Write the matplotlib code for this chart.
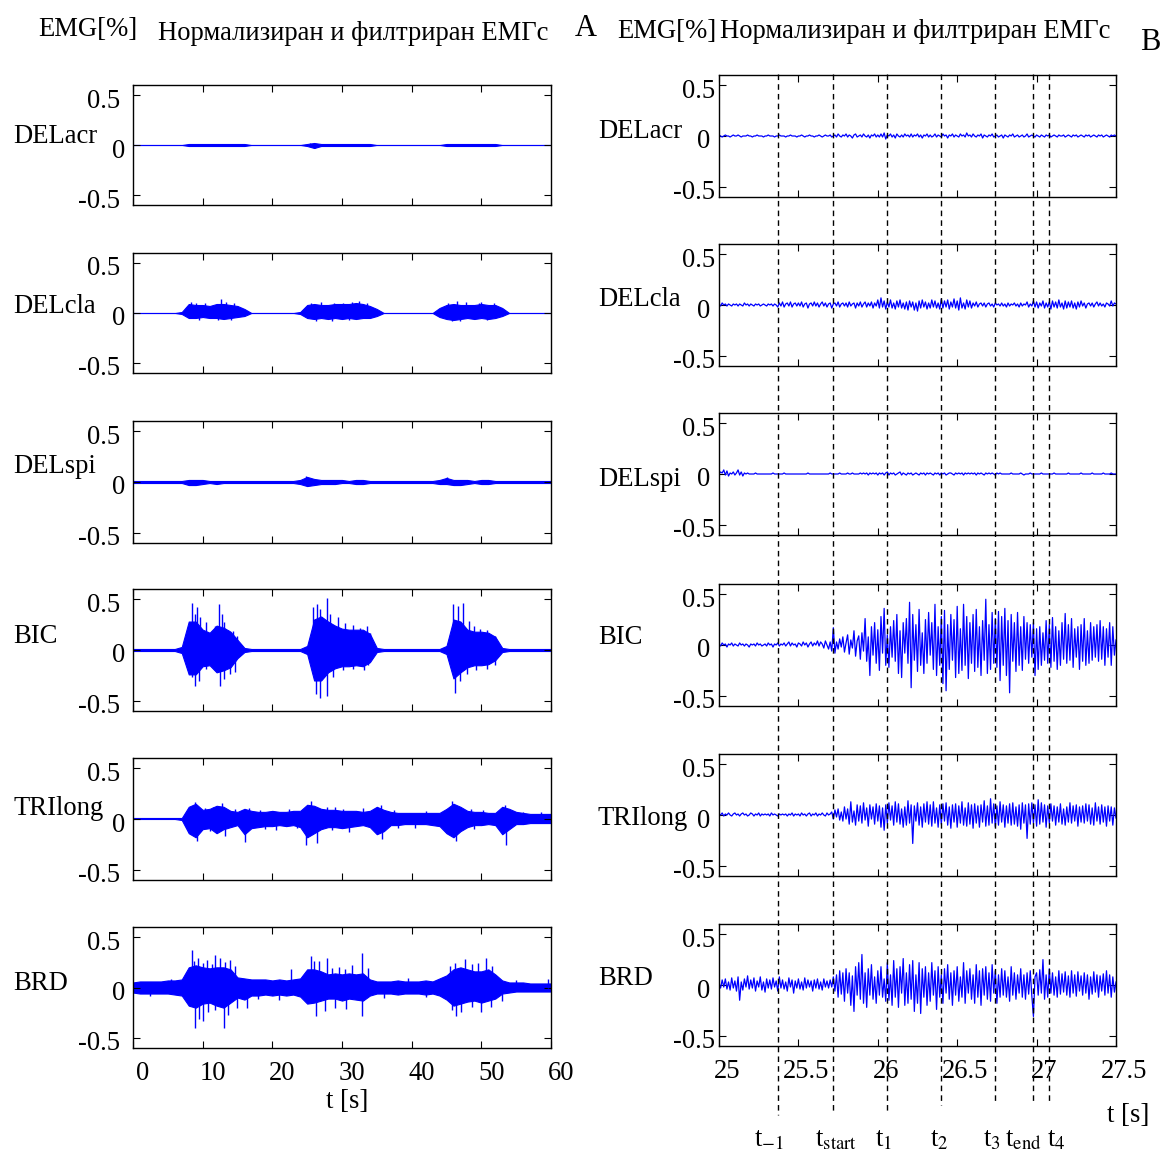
import matplotlib
matplotlib.use("Agg")
import matplotlib.pyplot as plt
import matplotlib.transforms as mtransforms
from matplotlib.lines import Line2D
import numpy as np

W, H = 1163, 1154
BLUE = "#0000ff"

plt.rcParams["font.family"] = ["Liberation Serif", "DejaVu Serif"]
plt.rcParams["mathtext.fontset"] = "stix"
plt.rcParams["font.size"] = 19.2

muscles = ["DELacr", "DELcla", "DELspi", "BIC", "TRIlong", "BRD"]

# ---- panel A: whole record 0..60 s, band envelope per second (units of 0.01) ----
t_full = np.arange(0, 61)

acr_hi = [0, 0, 0, 0, 0, 0, 0, 0, 1, 1, 1, 1, 1, 1, 1, 1, 1, 0, 0, 0, 0, 0, 0, 0,
          0, 1, 2, 1, 1, 1, 1, 1, 1, 1, 1, 0, 0, 0, 0, 0, 0, 0, 0, 0, 0, 1, 1, 1,
          1, 1, 1, 1, 1, 0, 0, 0, 0, 0, 0, 0, 0]
acr_lo = [0, 0, 0, 0, 0, 0, 0, 0, -1, -1, -1, -1, -1, -1, -1, -1, -1, 0, 0, 0, 0, 0, 0, 0,
          0, -1, -3, -1, -1, -1, -1, -1, -1, -1, -1, 0, 0, 0, 0, 0, 0, 0, 0, 0, 0, -1, -1, -1,
          -1, -1, -1, -1, -1, 0, 0, 0, 0, 0, 0, 0, 0]
acr_spk_t = [25.4, 26.1]
acr_spk_v = [2, -3]

cla_hi = [0, 0, 0, 0, 0, 0, 0, 1, 9, 8, 8, 7, 9, 9, 8, 7, 4, 0, 0, 0, 0, 0, 0, 0,
          1, 8, 9, 8, 8, 9, 9, 9, 10, 9, 7, 4, 0, 0, 0, 0, 0, 0, 0, 0, 5, 8, 9, 8,
          8, 8, 9, 8, 8, 5, 0, 0, 0, 0, 0, 0, 0]
cla_lo = [0, 0, 0, 0, 0, 0, 0, -1, -5, -5, -4, -5, -5, -6, -5, -4, -3, 0, 0, 0, 0, 0, 0, 0,
          -1, -5, -6, -5, -6, -5, -6, -5, -6, -5, -5, -3, 0, 0, 0, 0, 0, 0, 0, 0, -4, -6, -7, -6,
          -5, -6, -5, -6, -5, -3, 0, 0, 0, 0, 0, 0, 0]
cla_spk_t = [8.3, 9.1, 10.4, 12.6, 13.4, 14.5, 25.6, 27.0, 28.8, 30.2, 31.5, 32.4, 33.6,
             45.2, 46.5, 47.8, 49.6, 50.0, 51.8, 9.5, 12.2, 14.0, 26.3, 28.5, 31.0, 45.8, 47.0, 50.8]
cla_spk_v = [11, 10, 10, 14, 11, 10, 10, 11, 10, 10, 11, 12, 10,
             10, 12, 11, 10, 11, 10, -7, -7, -7, -8, -8, -7, -8, -8, -7]

spi_hi = [1, 1, 1, 1, 1, 1, 1, 1, 2, 2, 2, 1, 1, 1, 1, 1, 1, 1, 1, 1, 1, 1, 1, 1,
          2, 5, 3, 2, 2, 2, 2, 1, 2, 2, 1, 1, 1, 1, 1, 1, 1, 1, 1, 1, 2, 4, 2, 2,
          2, 1, 2, 2, 1, 1, 1, 1, 1, 1, 1, 1, 1]
spi_lo = [-1, -1, -1, -1, -1, -1, -1, -1, -3, -3, -2, -1, -2, -1, -1, -1, -1, -1, -1, -1, -1, -1, -1, -1,
          -2, -4, -3, -2, -2, -2, -1, -1, -2, -2, -1, -1, -1, -1, -1, -1, -1, -1, -1, -1, -2, -2, -3, -3,
          -2, -1, -2, -2, -1, -1, -1, -1, -1, -1, -1, -1, -1]
spi_spk_t = [24.9, 45.0]
spi_spk_v = [6, 5]

bic_hi = [1, 1, 1, 1, 1, 1, 1, 3, 28, 28, 20, 17, 24, 22, 18, 10, 2, 1, 1, 1, 1, 1, 1, 1,
          1, 4, 30, 33, 28, 24, 21, 20, 20, 20, 16, 2, 1, 1, 1, 1, 1, 1, 1, 1, 1, 4, 30, 28,
          20, 18, 18, 17, 13, 2, 1, 1, 1, 1, 1, 1, 1]
bic_lo = [-1, -1, -1, -1, -1, -1, -1, -3, -24, -24, -16, -15, -22, -20, -17, -8, -2, -1, -1, -1, -1, -1, -1, -1,
          -1, -4, -30, -30, -22, -18, -16, -16, -15, -16, -12, -2, -1, -1, -1, -1, -1, -1, -1, -1, -1, -4, -28, -22,
          -17, -15, -15, -14, -10, -2, -1, -1, -1, -1, -1, -1, -1]
bic_spk_t = [8.46, 8.84, 9.18, 9.66, 10.5, 11.1, 11.8, 12.4, 12.8, 13.1, 13.7, 14.3, 14.9,
             8.5, 8.9, 9.5, 10.5, 11.8, 12.5, 13.1, 13.9, 14.6,
             25.9, 26.4, 26.9, 27.8, 28.3, 29.4, 30.5, 31.6, 32.6, 33.6, 34.0,
             26.2, 26.9, 27.8, 28.7, 30.1, 31.6, 33.1, 33.8,
             46.0, 46.7, 47.4, 48.2, 48.9, 49.8, 50.8, 52.0,
             46.2, 46.9, 47.9, 49.3, 50.8, 52.0]
bic_spk_v = [46, 35, 42, 32, 28, 17, 24, 45, 35, 28, 20, 19, 14,
             -27, -35, -30, -19, -20, -35, -29, -24, -22,
             42, 45, 40, 51, 35, 32, 27, 25, 22, 24, 17,
             -43, -47, -45, -27, -20, -19, -20, -15,
             45, 43, 46, 29, 24, 21, 20, 14,
             -42, -30, -24, -20, -19, -15]

tri_hi = [1, 1, 1, 1, 1, 1, 1, 1, 12, 15, 9, 10, 13, 12, 8, 7, 10, 8, 7, 7, 8, 7, 7, 8,
          8, 14, 13, 10, 9, 9, 8, 8, 8, 7, 8, 12, 9, 7, 6, 6, 6, 6, 6, 6, 6, 10, 15, 12,
          8, 7, 7, 6, 6, 12, 10, 7, 6, 5, 5, 5, 5]
tri_lo = [0, 0, 0, 0, 0, 0, 0, -1, -14, -18, -10, -9, -14, -10, -8, -6, -15, -9, -8, -7, -7, -6, -7, -6,
          -8, -18, -14, -10, -8, -8, -9, -8, -7, -6, -8, -15, -12, -6, -6, -5, -5, -5, -5, -6, -7, -14, -18, -12,
          -8, -6, -6, -5, -6, -15, -10, -5, -5, -4, -4, -4, -4]
tri_spk_t = [8.9, 9.2, 12.8, 13.2, 16.1, 24.8, 25.6, 26.4, 29.0, 35.6, 35.7, 45.8, 46.4,
             53.4, 53.6, 16.6, 20.5, 31.0, 40.5, 10.4, 11.5, 14.6, 18.2, 22.4, 27.8,
             30.2, 33.0, 37.5, 42.0, 48.5, 50.2, 56.0, 58.5, 11.0, 19.0, 23.5, 28.5, 38.0, 49.0]
tri_spk_v = [17, -22, 16, -17, -23, -26, 18, -24, 12, 14, -20, 18, -22,
             14, -26, 11, -11, -13, -9, 11, 12, 10, 9, 10, 12,
             10, 11, 9, 8, 10, 9, 7, 7, -12, -10, -9, -11, -9, -10]

brd_hi = [5, 6, 6, 6, 6, 7, 7, 8, 20, 22, 20, 19, 20, 20, 18, 10, 9, 8, 8, 8, 7, 8, 7, 8,
          9, 18, 18, 16, 13, 14, 13, 14, 13, 14, 8, 6, 6, 6, 7, 6, 6, 6, 7, 6, 9, 12, 18, 20,
          18, 16, 16, 18, 13, 7, 5, 5, 5, 4, 4, 4, 4]
brd_lo = [-5, -6, -6, -6, -6, -6, -7, -8, -18, -20, -16, -15, -18, -20, -15, -10, -12, -8, -8, -7, -8, -7, -8, -7,
          -9, -16, -15, -13, -11, -11, -13, -11, -12, -13, -8, -6, -6, -6, -7, -6, -6, -6, -7, -6, -8, -12, -18, -16,
          -14, -13, -15, -13, -11, -6, -5, -4, -4, -4, -4, -4, -4]
brd_spk_t = [8.46, 8.8, 9.4, 10.1, 10.6, 11.3, 11.8, 12.5, 13.2, 13.9, 14.6,
             8.9, 9.5, 10.1, 10.7, 11.8, 13.1, 13.7, 14.9, 16.3,
             22.7, 25.5, 26.0, 26.7, 27.9, 28.6, 29.5, 30.5, 31.4, 32.9, 33.8,
             26.2, 27.6, 29.0, 30.6, 32.9,
             45.5, 46.2, 47.6, 48.6, 49.5, 50.7, 51.6,
             45.8, 46.4, 47.1, 48.6, 50.0, 51.4, 52.9,
             2.5, 5.5, 18.0, 21.0, 36.0, 39.5, 42.0, 55.0, 59.5]
brd_spk_v = [37, 26, 29, 24, 27, 23, 32, 29, 25, 27, 21,
             -40, -31, -33, -24, -22, -40, -27, -20, -20,
             18, 31, 26, 26, 29, 19, 20, 18, 22, 34, 19,
             -28, -23, -20, -21, -28,
             21, 24, 28, 23, 24, 29, 21,
             -22, -28, -24, -19, -24, -19, -13,
             -8, 8, -11, -12, -10, 9, -9, 7, 8]

# ---- panel B: 25..27.5 s, samples every 10 ms (units of 0.01) ----
z_acr = [1, 0, -1, 0, 1, 0, 0, -1, 0, 1, 0, 0, 1, 0, -1, 0, 0, 0, 1, 0,
         0, -1, 0, 0, 1, 0, 0, 0, -1, 0, 0, 1, 0, 0, 0, -1, 0, 0, 1, 0,
         0, 0, -1, 0, 0, 1, 0, 0, 0, -1, 0, 0, 1, 0, -1, 0, 0, 1, 0, 0,
         -1, 0, 0, 1, 0, -1, 0, 1, 0, 0, 1, -1, 0, 1, -1, 2, 0, -1, 1, 0,
         2, -1, 1, 0, -2, 1, 2, -1, 0, 1, -1, 2, 0, -1, 1, -2, 1, 0, 2, -1,
         1, -1, 2, -1, 3, -3, 1, 0, 2, -1, 1, -2, 2, 0, -1, 1, -1, 2, 0, 1,
         -1, 2, -1, 1, 0, 2, -1, 1, -2, 1, 0, 2, -1, 1, -1, 0, 2, -1, 1, 0,
         -1, 2, 0, 1, -2, 1, 0, 2, -1, 1, 0, -1, 2, 0, 1, -1, 3, 0, 1, -1,
         2, 0, -1, 1, 0, 2, -2, 1, 0, -1, 1, 0, 2, -1, 0, 1, -1, 0, 1, -2,
         1, 0, -1, 1, 0, 2, -1, 0, 1, -1, 0, 1, -1, 0, 2, -1, 0, 1, 0, -1,
         1, 0, -1, 1, 0, -1, 1, 0, 1, -1, 0, 1, 0, -1, 1, 0, 0, 1, -1, 0,
         1, 0, -1, 1, 0, 1, -1, 0, 1, 0, -1, 1, 0, 1, -1, 0, 1, 0, -1, 1,
         0, 1, -1, 0, 1, 0, -1, 1, 0, 1, 0]
z_cla = [1, -1, 2, 0, 1, -1, 1, 0, -1, 1, 0, 1, -1, 1, 0, -1, 2, 0, 1, -1,
         1, 0, -1, 1, 0, 1, -1, 0, 1, 0, -1, 1, 0, 1, -1, 1, 0, -2, 2, -1,
         3, -2, 1, 2, -1, 3, -2, 1, 2, -1, 2, -1, 3, -2, 1, 2, -3, 1, 2, -1,
         3, -1, 2, -2, 1, 3, -1, 2, -2, 1, 2, -3, 1, 2, -1, 3, -2, 1, 2, -1,
         2, -2, 3, -1, 1, 2, -3, 2, -1, 3, -2, 1, 3, -2, 2, -1, 3, -3, 2, -1,
         5, -3, 7, -2, 4, -4, 3, -2, 5, -3, 2, -4, 4, -2, 5, -3, 2, -4, 3, -5,
         4, -2, 3, -5, 2, -6, 4, -3, 5, -2, 3, -4, 2, -3, 5, -2, 4, -3, 2, -4,
         6, -3, 4, -2, 5, -4, 3, -2, 6, -3, 4, -5, 7, -3, 2, -4, 5, -2, 4, -3,
         2, -1, 3, -2, 1, 2, -1, 2, -2, 1, 2, -1, 1, -2, 2, 0, 1, -1, 2, -1,
         1, -2, 2, -1, 1, 0, 2, -1, 1, -2, 2, -1, 1, 0, 3, -2, 1, -1, 4, -2,
         3, -3, 2, -1, 4, -3, 2, -2, 3, -4, 4, -2, 3, -3, 5, -2, 2, -4, 4, -3,
         3, -2, 4, -3, 2, -4, 3, -2, 4, -1, 2, -3, 1, 2, -1, 2, -2, 1, 3, -1,
         2, -1, 1, -2, 2, 1, -1, 4, -1, 2, 1]
z_spi = [0, 2, 1, 4, -1, 3, -2, 1, 0, 2, -1, 1, 4, -1, 2, -2, 1, 0, 1, 0,
         0, 0, 0, 1, 0, 0, 0, 0, 0, 0, 0, 0, 0, 0, 1, 0, 0, 0, 0, 0,
         0, 1, 0, 0, 0, 0, 0, 0, 0, 0, 0, 0, 0, 0, 0, 0, 1, 0, 0, 0,
         0, 0, 0, 0, 0, 0, 0, 0, 0, 0, 1, 0, 0, 0, 0, 0, 1, 0, 0, 0,
         0, 1, 0, 0, 1, 0, 0, 0, 0, 1, 0, 1, 0, 1, -1, 1, 0, 1, 0, 1,
         -1, 1, 0, 1, -1, 1, 2, -1, 1, 0, 1, -1, 0, 1, 2, -1, 1, 0, -1, 1,
         0, 1, -1, 0, 1, 0, -1, 1, 0, 1, -1, 1, 0, 1, 0, -1, 1, 0, 1, -1,
         1, 0, 1, -1, 0, 1, 1, 0, -1, 1, 0, 1, 0, 1, -1, 1, 0, 1, 0, 1,
         0, 1, -1, 1, 0, 1, 0, -1, 1, 0, 1, 0, 1, 0, -1, 1, 0, 1, 0, 0,
         0, 0, 0, 0, 1, 0, 0, 0, 0, 0, 1, 0, -1, 0, 0, 0, 1, 0, 0, 0,
         0, 0, 0, 1, 0, 0, 0, 0, 0, 0, 0, 1, 0, 0, 0, 0, 0, 0, 0, 0,
         1, 0, 0, 0, 0, 0, 0, 0, 1, 0, 0, 0, 0, 0, 0, 1, 0, 0, 0, 0,
         0, 0, 1, 0, 0, 0, 0, 1, 0, 0, 0]
z_bic = [1, -1, 2, 0, 1, -2, 1, 0, 2, -1, 1, 0, -1, 2, 0, 1, -1, 1, 0, -2,
         1, 0, 1, -1, 2, 0, 1, -1, 0, 1, -1, 2, 0, 1, -2, 1, 0, 2, -1, 1,
         0, 2, -1, 1, 3, -1, 2, 0, 1, -2, 2, 1, -1, 3, 0, 2, -2, 1, 3, -1,
         2, 0, 4, -1, 3, 1, -3, 4, 0, -4, 3, -6, 17, -8, 3, -4, 6, -2, 8, -7,
         2, 10, -9, 5, -3, 14, -11, 4, 9, -14, 12, -6, 26, -16, 8, -30, 18, -10, 22, -18,
         15, -25, 28, -8, 36, -20, 10, -22, 18, -12, 24, -16, 30, -28, 14, -32, 22, -8, 26, -18,
         42, -42, 30, -15, 20, -26, 35, -20, 12, -28, 25, -18, 32, -10, 22, -24, 40, -30, 18, -20,
         28, -38, 34, -45, 20, -24, 30, -15, 25, -32, 38, -28, 16, -25, 40, -20, 28, -33, 22, -18,
         30, -26, 35, -22, 18, -30, 24, -15, 45, -28, 20, -24, 32, -18, 26, -22, 33, -35, 28, -20,
         36, -30, 24, -47, 30, -16, 22, -26, 32, -20, 18, -25, 28, -14, 22, -18, 20, -12, 22, -30,
         16, -24, 18, -20, 12, -15, 24, -18, 20, -22, 27, -16, 18, -24, 14, -20, 22, -14, 31, -18,
         20, -15, 26, -22, 16, -12, 18, -24, 20, -16, 26, -20, 14, -18, 22, -15, 18, -12, 20, -16,
         24, -14, 18, -20, 16, -12, 22, -20, 18, -10, 5]
z_tri = [1, 0, 2, -1, 1, 0, 2, 0, -1, 1, 2, 0, 1, -1, 1, 2, 0, 1, -1, 0,
         2, 1, -1, 1, 0, 2, -1, 1, 0, 1, 0, 1, -1, 2, 0, 1, 0, -1, 1, 0,
         1, 0, 1, -1, 1, 0, 2, -1, 1, 0, 1, -1, 2, 0, 1, -1, 1, 2, -1, 1,
         0, 2, -1, 1, 0, 2, 0, -1, 2, 0, 1, 3, -4, 5, -2, 6, -5, 3, -6, 8,
         -4, 6, -9, 13, -7, 4, -10, 10, -6, 9, -8, 12, -5, 7, -11, 10, -4, 8, -9, 11,
         -6, 9, -12, 7, -15, 10, -8, 12, -5, 9, -10, 13, -7, 11, -9, 6, -12, 8, -10, 14,
         -8, 10, -28, 9, -6, 12, -10, 8, -12, 11, -7, 13, -9, 10, -11, 13, -8, 7, -12, 10,
         -9, 11, -6, 12, -10, 8, -13, 10, -7, 11, -12, 9, -8, 13, -10, 7, -11, 12, -9, 10,
         -13, 11, -8, 9, -12, 10, -7, 14, -11, 9, -10, 16, -8, 11, -12, 9, -10, 13, -7, 10,
         -12, 9, -8, 11, -10, 12, -9, 8, -11, 10, -14, 12, -8, 10, -23, 11, -9, 12, -8, 10,
         -11, 15, -9, 12, -7, 10, -12, 9, -8, 11, -6, 9, -10, 8, -7, 11, -9, 6, -10, 8,
         -7, 12, -8, 9, -6, 10, -11, 8, -7, 9, -8, 11, -6, 10, -9, 7, -10, 12, -6, 8,
         -9, 10, -7, 8, -11, 9, -6, 8, -10, 7, -3]
z_brd = [2, -3, 5, -2, 6, -4, 3, -5, 7, -3, 4, -6, 8, -15, 3, -5, 6, -2, 9, -4,
         5, -3, 7, -6, 4, -2, 8, -5, 3, -7, 6, -3, 5, -4, 7, -2, 4, -6, 8, -3,
         5, -4, 3, -6, 7, -2, 5, -8, 4, -3, 6, -4, 3, -5, 7, -3, 5, -2, 4, -6,
         5, -3, 6, -4, 3, -5, 6, -2, 4, -3, 5, -2, 8, -6, 10, -12, 14, -9, 12, -16,
         16, -8, 12, -20, 9, -26, 18, -10, 22, -14, 30, -18, 12, -22, 16, -10, 20, -14, 8, -18,
         14, -10, 18, -12, 6, -16, 22, -15, 10, -20, 24, -12, 16, -22, 18, -8, 26, -20, 12, -18,
         20, -14, 24, -26, 10, -18, 22, -28, 16, -12, 18, -20, 12, -16, 22, -10, 14, -24, 18, -12,
         10, -18, 16, -8, 20, -14, 12, -20, 14, -10, 18, -16, 8, -12, 22, -18, 14, -8, 16, -14,
         10, -18, 20, -12, 14, -20, 16, -10, 18, -14, 12, -16, 20, -8, 14, -18, 10, -12, 16, -10,
         14, -12, 8, -16, 18, -10, 12, -14, 10, -8, 16, -12, 10, -14, 12, -9, 14, -11, -31, 8,
         12, -10, 15, -8, 25, -14, 10, -12, 16, -8, 12, -10, 8, -12, 14, -9, 11, -7, 13, -10,
         9, -12, 14, -8, 10, -11, 13, -6, 9, -10, 12, -8, 10, -14, 8, -9, 13, -7, 10, -12,
         9, -6, 11, -10, 14, -8, 10, -12, 8, -7, 3]

# event markers (s)
event_t = [25.37, 25.716, 26.055, 26.40, 26.737, 26.98, 27.08]
event_lbl = [r"t$_{-1}$", r"t$_{\mathrm{start}}$", r"t$_{1}$", r"t$_{2}$",
             r"t$_{3}$", r"t$_{\mathrm{end}}$", r"t$_{4}$"]

left_hi = [acr_hi, cla_hi, spi_hi, bic_hi, tri_hi, brd_hi]
left_lo = [acr_lo, cla_lo, spi_lo, bic_lo, tri_lo, brd_lo]
left_spk_t = [acr_spk_t, cla_spk_t, spi_spk_t, bic_spk_t, tri_spk_t, brd_spk_t]
left_spk_v = [acr_spk_v, cla_spk_v, spi_spk_v, bic_spk_v, tri_spk_v, brd_spk_v]
right_sig = [z_acr, z_cla, z_spi, z_bic, z_tri, z_brd]

# axes boxes in pixels (top, bottom)
left_rows = [(85, 205), (253, 373), (421, 543), (589, 711), (758, 880), (927, 1048)]
right_rows = [(75, 197), (244, 366), (413, 535), (584, 706), (754, 876), (924, 1046)]
left_x = (133, 551)
right_x = (719, 1116)
left_name_y = [143, 313, 473, 643, 815, 990]
right_name_y = [138, 306, 486, 644, 825, 985]

fig = plt.figure(figsize=(W / 100, H / 100), dpi=100)


def px_axes(x, row):
    return fig.add_axes([x[0] / W, 1 - row[1] / H, (x[1] - x[0]) / W, (row[1] - row[0]) / H])


def shift(labels, dx, dy):
    for lab in labels:
        lab.set_transform(lab.get_transform() +
                          mtransforms.ScaledTranslation(dx / 100, dy / 100, fig.dpi_scale_trans))


def style(ax, xlim, xticks, xlabels, ypad, bottom):
    ax.set_xlim(*xlim)
    ax.set_ylim(-0.6, 0.6)
    ax.set_xticks(xticks)
    ax.set_yticks([-0.5, 0, 0.5])
    ax.set_yticklabels(["-0.5", "0", "0.5"])
    ax.tick_params(direction="in", top=True, right=True, length=5, width=0.8)
    ax.tick_params(axis="y", pad=ypad)
    ax.tick_params(axis="x", pad=9)
    if bottom:
        ax.set_xticklabels(xlabels)
    else:
        ax.set_xticklabels([])
    for s in ax.spines.values():
        s.set_linewidth(1.0)


axes_left, axes_right = [], []
for k in range(6):
    ax = px_axes(left_x, left_rows[k])
    hi = np.array(left_hi[k]) / 100
    lo = np.array(left_lo[k]) / 100
    ax.fill_between(t_full, lo, hi, facecolor=BLUE, edgecolor=BLUE, lw=0.8)
    if left_spk_t[k]:
        ax.vlines(left_spk_t[k], 0, np.array(left_spk_v[k]) / 100, color=BLUE, lw=1.0)
    style(ax, (0, 60), [0, 10, 20, 30, 40, 50, 60],
          ["0", "10", "20", "30", "40", "50", "60"], 9.4, k == 5)
    ylabs = ax.get_yticklabels()
    shift(ylabs, 0, -3)
    shift([ylabs[1]], 5, 0)
    if k == 5:
        shift(ax.get_xticklabels(), 10, 0)
    fig.text(13 / W, 1 - left_name_y[k] / H, muscles[k], ha="left", va="baseline")
    axes_left.append(ax)

    ax = px_axes(right_x, right_rows[k])
    sig = np.array(right_sig[k]) / 100
    t_zoom = np.linspace(25, 27.5, len(sig))
    ax.plot(t_zoom, sig, color=BLUE, lw=0.9)
    style(ax, (25, 27.5), [25, 25.5, 26, 26.5, 27, 27.5],
          ["25", "25.5", "26", "26.5", "27", "27.5"], 3, k == 5)
    ylabs = ax.get_yticklabels()
    shift(ylabs, 0, -3)
    shift([ylabs[1]], -5, 0)
    if k == 5:
        shift(ax.get_xticklabels(), 8, 0)
    fig.text(598 / W, 1 - right_name_y[k] / H, muscles[k], ha="left", va="baseline")
    axes_right.append(ax)

# dashed event markers crossing all panels of column B
blend = mtransforms.blended_transform_factory(axes_right[-1].transData, fig.transFigure)
line_bottom = [1115, 1113, 1111, 1105, 1101, 1104, 1104]
label_dx = [-9, 3, -3, -2, -3, -10, 7]
for tv, yb, lbl, dx in zip(event_t, line_bottom, event_lbl, label_dx):
    fig.add_artist(Line2D([tv, tv], [1 - 74 / H, 1 - yb / H], transform=blend,
                          color="black", lw=1.0, linestyle=(0, (4, 3)), zorder=5))
    fig.text(tv, 1 - 1146 / H, lbl,
             transform=mtransforms.offset_copy(blend, fig=fig, x=dx, y=0, units="dots"),
             ha="center", va="baseline")

fig.text(347 / W, 1 - 1102 / H, "t [s]", ha="center", va="center")
fig.text(1128 / W, 1 - 1116 / H, "t [s]", ha="center", va="center")

fig.text(38 / W, 1 - 29 / H, "EMG[%]", ha="left", va="center")
fig.text(158 / W, 1 - 34 / H, "Нормализиран и филтриран ЕМГс", ha="left", va="center")
fig.text(586 / W, 1 - 29 / H, "A", ha="center", va="center", fontsize=22)
fig.text(617 / W, 1 - 32 / H, "EMG[%]", ha="left", va="center")
fig.text(720 / W, 1 - 32 / H, "Нормализиран и филтриран ЕМГс", ha="left", va="center")
fig.text(1150 / W, 1 - 43 / H, "B", ha="center", va="center", fontsize=22)

fig.savefig("out.png", dpi=100)
